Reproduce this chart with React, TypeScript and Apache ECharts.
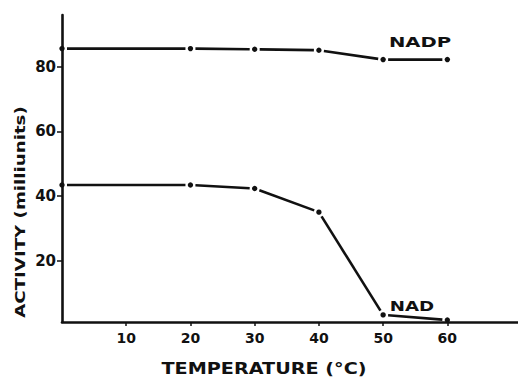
import React, { useEffect, useRef } from "react";
import * as echarts from "echarts";

const temperatures = [0, 20, 30, 40, 50, 60];
const nadpActivity = [85.6, 85.6, 85.4, 85.1, 82.2, 82.2];
const nadActivity = [43.4, 43.4, 42.3, 35.0, 3.2, 1.6];
const xTickValues = [10, 20, 30, 40, 50, 60];
const yTickValues = [20, 40, 60, 80];

const INK = "#111111";
const FONT = "DejaVu Sans";

function rows(xs: number[], ys: number[]) {
  return xs.map((x, i) => [x, ys[i], i > 0 ? xs[i - 1] : x, i > 0 ? ys[i - 1] : ys[i]]);
}

function renderItem(params: any, api: any) {
  const i = params.dataIndex;
  const p = api.coord([api.value(0), api.value(1)]);
  const children: any[] = [
    { type: "circle", shape: { cx: p[0], cy: p[1], r: 2.7 }, style: { fill: INK } },
  ];
  if (i > 0) {
    const q = api.coord([api.value(2), api.value(3)]);
    const dx = p[0] - q[0];
    const dy = p[1] - q[1];
    const len = Math.sqrt(dx * dx + dy * dy) || 1;
    const g = 5;
    const ux = dx / len;
    const uy = dy / len;
    children.push({
      type: "line",
      shape: { x1: q[0] + ux * g, y1: q[1] + uy * g, x2: p[0] - ux * g, y2: p[1] - uy * g },
      style: { stroke: INK, lineWidth: 2.6 },
    });
  }
  return { type: "group", children };
}

export default function App() {
  const ref = useRef<HTMLDivElement>(null);
  useEffect(() => {
    if (!ref.current) return;
    const chart = echarts.init(ref.current, null, { renderer: "svg" });
    chart.setOption({
      animation: false,
      backgroundColor: "#ffffff",
      grid: { left: 62, top: 15, right: 0, bottom: 55 },
      xAxis: {
        type: "value",
        min: 0,
        max: 71,
        splitLine: { show: false },
        axisLine: { show: true, onZero: false, lineStyle: { color: INK, width: 2.6 } },
        axisTick: { show: true, customValues: xTickValues, length: 4, lineStyle: { color: INK, width: 1.5 } },
        axisLabel: {
          customValues: xTickValues,
          margin: 9,
          color: INK,
          fontFamily: FONT,
          fontWeight: "bold",
          fontSize: 14,
        },
      },
      yAxis: {
        type: "value",
        min: 1,
        max: 96,
        splitLine: { show: false },
        axisLine: { show: true, onZero: false, lineStyle: { color: INK, width: 2.6 } },
        axisTick: { show: true, customValues: yTickValues, length: 5, lineStyle: { color: INK, width: 1.5 } },
        axisLabel: {
          customValues: yTickValues,
          margin: 6,
          color: INK,
          fontFamily: FONT,
          fontWeight: "bold",
          fontSize: 15,
        },
      },
      series: [
        {
          name: "NADP",
          type: "custom",
          renderItem,
          encode: { x: 0, y: 1 },
          data: rows(temperatures, nadpActivity),
          clip: false,
        },
        {
          name: "NAD",
          type: "custom",
          renderItem,
          encode: { x: 0, y: 1 },
          data: rows(temperatures, nadActivity),
          clip: false,
        },
      ],
      graphic: [
        {
          type: "text",
          x: 264,
          y: 369,
          scaleX: 1.28,
          style: {
            text: "TEMPERATURE (°C)",
            fill: INK,
            font: `bold 15px "${FONT}"`,
            textAlign: "center",
            textVerticalAlign: "middle",
          },
        },
        {
          type: "text",
          x: 20,
          y: 212,
          rotation: Math.PI / 2,
          scaleX: 1.3,
          style: {
            text: "ACTIVITY (milliunits)",
            fill: INK,
            font: `bold 14px "${FONT}"`,
            textAlign: "center",
            textVerticalAlign: "middle",
          },
        },
        {
          type: "text",
          x: 420,
          y: 42,
          scaleX: 1.4,
          style: {
            text: "NADP",
            fill: INK,
            font: `bold 14px "${FONT}"`,
            textAlign: "center",
            textVerticalAlign: "middle",
          },
        },
        {
          type: "text",
          x: 412,
          y: 306,
          scaleX: 1.3,
          style: {
            text: "NAD",
            fill: INK,
            font: `bold 14px "${FONT}"`,
            textAlign: "center",
            textVerticalAlign: "middle",
          },
        },
      ],
    });
    return () => chart.dispose();
  }, []);
  return (
    <div
      ref={ref}
      style={{ position: "fixed", left: 0, top: 0, width: 518, height: 377 }}
    />
  );
}
